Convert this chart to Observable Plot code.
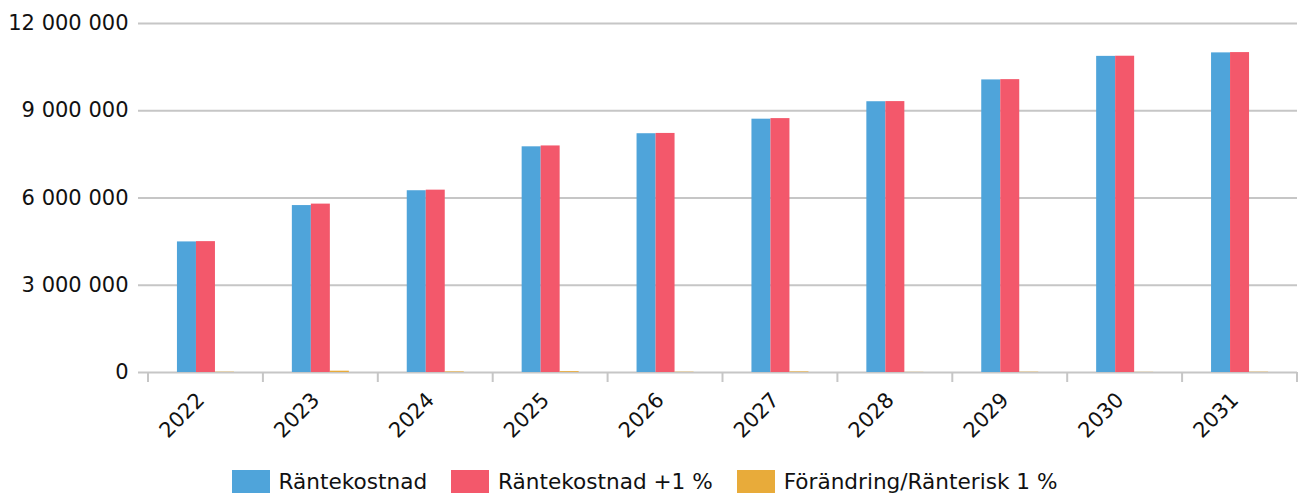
<!DOCTYPE html>
<html><head><meta charset="utf-8">
<script src="https://cdn.jsdelivr.net/npm/d3@7"></script>
<script src="https://cdn.jsdelivr.net/npm/@observablehq/plot@0.6"></script>
<style>
body{margin:0;background:#fff;font-family:"DejaVu Sans",sans-serif;}
#legend{display:flex;justify-content:center;align-items:center;height:41px;margin-top:6px;font-size:21.6px;color:#111;padding-right:12px;}
.item{display:flex;align-items:center;margin:0 12px;}
.sw{width:38px;height:23px;margin-right:9px;}
</style></head><body><div id="chart"></div><div id="legend"></div>
<script>
const years = ["2022","2023","2024","2025","2026","2027","2028","2029","2030","2031"];
const ranteKostnad      = [4490000, 5740000, 6250000, 7760000, 8210000, 8710000, 9310000, 10060000, 10870000, 10990000];
const ranteKostnadPlus1 = [4500000, 5790000, 6270000, 7790000, 8220000, 8730000, 9315000, 10070000, 10875000, 11000000];
const forandring        = [10000, 45000, 20000, 30000, 10000, 20000, 5000, 10000, 5000, 10000];
const seriesNames  = ["Räntekostnad", "Räntekostnad +1 %", "Förändring/Ränterisk 1 %"];
const seriesColors = ["#4FA4DA", "#F3586B", "#E8AB3A"];
const yTicks = [0, 3000000, 6000000, 9000000, 12000000];

const W = 1301, H = 455, mL = 148, mR = 4, mT = 23, mB = 83;
const step = (W - mL - mR) / years.length;
const barW = 19;
const seriesValues = [ranteKostnad, ranteKostnadPlus1, forandring];
const rows = years.flatMap((yr, i) => seriesValues.map((vals, k) => ({year: yr, k, value: vals[i]})));
const fmt = d3.formatLocale({decimal: ",", thousands: " ", grouping: [3], currency: ["", ""]}).format(",d");

function bars(k) {
  return Plot.barY(rows.filter(r => r.k === k), {
    x: "year", y: "value", fill: seriesColors[k],
    insetLeft: (step - barW) / 2, insetRight: (step - barW) / 2, dx: (k - 1) * barW
  });
}

function boundaryTicks(index, scales, values, dims) {
  const g = d3.create("svg:g");
  const left = dims.marginLeft, right = dims.width - dims.marginRight;
  const y0 = dims.height - dims.marginBottom;
  const n = years.length;
  for (let i = 0; i <= n; i++) {
    const xx = left + i * (right - left) / n;
    g.append("line").attr("x1", xx).attr("x2", xx).attr("y1", y0).attr("y2", y0 + 10)
      .attr("stroke", "#c6c6c6").attr("stroke-width", 2);
  }
  return g.node();
}

const chart = Plot.plot({
  width: W, height: H,
  marginLeft: mL, marginRight: mR, marginTop: mT, marginBottom: mB,
  style: {fontFamily: "DejaVu Sans, sans-serif", fontSize: "21px", color: "#111", background: "#fff"},
  x: {domain: years, padding: 0, round: false, label: null},
  y: {domain: [0, 12000000], ticks: yTicks, tickFormat: fmt, label: null},
  marks: [
    Plot.ruleY(yTicks, {stroke: "#c6c6c6", strokeWidth: 2, insetLeft: -10}),
    bars(0), bars(1), bars(2),
    boundaryTicks,
    Plot.axisY({ticks: yTicks, tickFormat: fmt, tickSize: 0, tickPadding: 20, label: null}),
    Plot.axisX({tickSize: 0, tickRotate: -45, tickPadding: 24, dx: -5, label: null})
  ]
});
document.getElementById("chart").appendChild(chart);

const legend = document.getElementById("legend");
seriesNames.forEach((name, k) => {
  const it = document.createElement("div"); it.className = "item";
  const sw = document.createElement("div"); sw.className = "sw"; sw.style.background = seriesColors[k];
  const tx = document.createElement("span"); tx.textContent = name;
  it.appendChild(sw); it.appendChild(tx); legend.appendChild(it);
});
</script></body></html>
